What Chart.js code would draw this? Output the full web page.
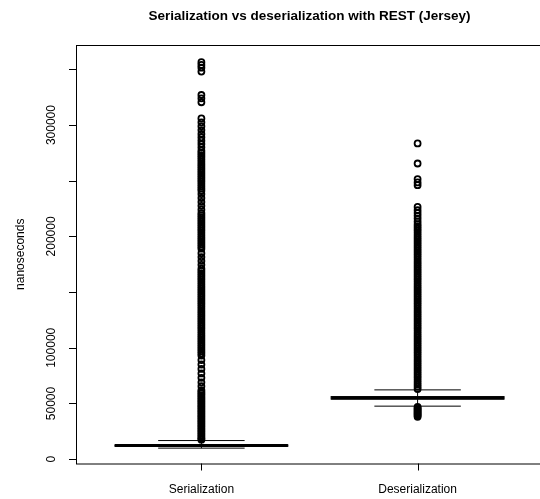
<!DOCTYPE html>
<html>
<head>
<meta charset="utf-8">
<script src="https://cdn.jsdelivr.net/npm/chart.js@4"></script>
<style>
    html, body { margin: 0; padding: 0; overflow: hidden; background: #fff; }
    canvas { display: block; }
</style>
</head>
<body>
<canvas id="chart" width="560" height="499"></canvas>
<script>
// Data
const categories = ['Serialization', 'Deserialization'];
const lowerWhisker = [9900, 47600];
const q1 = [11600, 53900];
const median = [12200, 55000];
const q3 = [12800, 56200];
const upperWhisker = [16700, 62200];

const yTicks = [0, 50000, 100000, 150000, 200000, 250000, 300000, 350000];
const yLabels = ['0', '50000', '100000', '', '200000', '', '300000', ''];

const serializationOutliers = [
    356500, 354000, 351500, 348000, 327000, 324000, 320500,
    306000, 302500, 299000, 295500, 292000, 289000, 286000, 283000, 280000, 277000,
    275000, 273000, 271000, 269000, 267000, 265000, 263000, 261000, 259000, 257000,
    255000, 253000, 251000, 249000, 247000, 245000, 243000, 241000,
    238000, 234500, 231000, 227500, 224000,
    221000, 219000, 217000, 215000, 213000, 211000, 209000, 207000, 205000, 203000,
    201000, 199000, 197000, 195000, 193000, 191000, 189000,
    185000, 181500, 178000, 174500,
    171000, 169000, 167000, 165000, 163000, 161000, 159000, 157000, 155000, 153000,
    151000, 149000, 147000, 145000, 143000, 141000, 139000, 137000, 135000, 133000,
    131000, 129000, 127000, 125000, 123000, 121000, 119000, 117000, 115000, 113000,
    111000, 109000, 107000, 105000, 103000, 101000, 99000, 97000, 95000, 93000,
    89000, 85000, 81000, 77000, 73000, 69000, 65500,
    62000, 60500, 59000, 57500, 56000, 54500, 53000, 51500, 50000, 48500,
    47000, 45500, 44000, 42500, 41000, 39500, 38000, 36500, 35000, 33500,
    32000, 30500, 29000, 27500, 26000, 24500, 23000, 21500, 20000, 18500, 17500
];

const deserializationOutliers = [
    283500, 265500, 251500, 248500, 246000,
    226500, 223500, 221000, 218500, 216000, 213500, 211000, 209000, 207000, 205000,
    203000, 201000, 199000, 197000,
    195000, 193000, 191000, 189000, 187000, 185000, 183000, 181000, 179000, 177000,
    175000, 173000, 171000, 169000, 167000, 165000, 163000, 161000, 159000, 157000,
    155000, 153000, 151000, 149000, 147000, 145000, 143000, 141000, 139000, 137000,
    135000, 133000, 131000, 129000, 127000, 125000, 123000, 121000, 119000, 117000,
    115000, 113000, 111000, 109000, 107000, 105000, 103000, 101000, 99000, 97000,
    95000, 93000, 91000, 89000, 87000, 85000, 83000, 81000, 79000, 77000,
    75000, 73000, 71000, 69000, 67000, 65000, 63000,
    47000, 46000, 45000, 44000, 43000, 42000, 41000, 40000, 39000, 38000
];

const outliers = [serializationOutliers, deserializationOutliers];

const FONT = '"Liberation Sans", Arial, Helvetica, sans-serif';

// R style boxes, frame and axes drawn with the chart's own scales
const rBoxplot = {
    id: 'rBoxplot',
    beforeDatasetsDraw(chart) {
        const ctx = chart.ctx;
        const xs = chart.scales.x;
        const ys = chart.scales.y;
        ctx.save();
        ctx.strokeStyle = '#000';
        categories.forEach((c, i) => {
            const pos = i + 1;
            const xl = xs.getPixelForValue(pos - 0.4);
            const xr = xs.getPixelForValue(pos + 0.4);
            const xc = xs.getPixelForValue(pos);
            const sl = xs.getPixelForValue(pos - 0.2);
            const sr = xs.getPixelForValue(pos + 0.2);

            // whiskers (dashed)
            ctx.lineWidth = 1;
            ctx.setLineDash([4, 4]);
            ctx.beginPath();
            ctx.moveTo(xc, ys.getPixelForValue(q3[i]));
            ctx.lineTo(xc, ys.getPixelForValue(upperWhisker[i]));
            ctx.moveTo(xc, ys.getPixelForValue(q1[i]));
            ctx.lineTo(xc, ys.getPixelForValue(lowerWhisker[i]));
            ctx.stroke();
            ctx.setLineDash([]);

            // staples
            ctx.beginPath();
            ctx.moveTo(sl, ys.getPixelForValue(upperWhisker[i]));
            ctx.lineTo(sr, ys.getPixelForValue(upperWhisker[i]));
            ctx.moveTo(sl, ys.getPixelForValue(lowerWhisker[i]));
            ctx.lineTo(sr, ys.getPixelForValue(lowerWhisker[i]));
            ctx.stroke();

            // box
            const yt = ys.getPixelForValue(q3[i]);
            const yb = ys.getPixelForValue(q1[i]);
            ctx.strokeRect(xl, yt, xr - xl, yb - yt);

            // median
            ctx.lineWidth = 3;
            ctx.beginPath();
            ctx.moveTo(xl, ys.getPixelForValue(median[i]));
            ctx.lineTo(xr, ys.getPixelForValue(median[i]));
            ctx.stroke();
        });
        ctx.restore();
    },
    afterDraw(chart) {
        const ctx = chart.ctx;
        const area = chart.chartArea;
        const xs = chart.scales.x;
        const ys = chart.scales.y;
        ctx.save();
        ctx.strokeStyle = '#000';
        ctx.fillStyle = '#000';
        ctx.lineWidth = 1;

        // frame
        ctx.strokeRect(area.left + 0.5, area.top + 0.5, area.right - area.left, area.bottom - area.top);

        // y axis ticks + rotated labels
        ctx.font = '12px ' + FONT;
        ctx.textAlign = 'center';
        ctx.textBaseline = 'middle';
        ctx.beginPath();
        yTicks.forEach(v => {
            const y = Math.round(ys.getPixelForValue(v)) + 0.5;
            ctx.moveTo(area.left - 7, y);
            ctx.lineTo(area.left, y);
        });
        ctx.stroke();
        yTicks.forEach((v, i) => {
            if (!yLabels[i]) return;
            ctx.save();
            ctx.translate(area.left - 24, ys.getPixelForValue(v));
            ctx.rotate(-Math.PI / 2);
            ctx.fillText(yLabels[i], 0, 0);
            ctx.restore();
        });

        // x axis ticks + labels
        ctx.beginPath();
        categories.forEach((c, i) => {
            const x = Math.round(xs.getPixelForValue(i + 1)) + 0.5;
            ctx.moveTo(x, area.bottom);
            ctx.lineTo(x, area.bottom + 7);
        });
        ctx.stroke();
        categories.forEach((c, i) => {
            ctx.fillText(c, xs.getPixelForValue(i + 1), area.bottom + 26);
        });

        // axis title
        ctx.save();
        ctx.translate(21, (area.top + area.bottom) / 2);
        ctx.rotate(-Math.PI / 2);
        ctx.fillText('nanoseconds', 0, 0);
        ctx.restore();

        // main title
        ctx.font = 'bold 13.5px ' + FONT;
        ctx.fillText('Serialization vs deserialization with REST (Jersey)', (area.left + area.right) / 2, 16);
        ctx.restore();
    }
};

const datasets = categories.map((c, i) => ({
    label: c,
    data: outliers[i].map(v => ({ x: i + 1, y: v })),
    pointRadius: 3,
    pointBorderWidth: 1.8,
    pointBackgroundColor: 'rgba(0,0,0,0)',
    pointBorderColor: '#000',
    showLine: false
}));

new Chart(document.getElementById('chart'), {
    type: 'scatter',
    data: { datasets: datasets },
    options: {
        responsive: false,
        animation: false,
        layout: { padding: { left: 76, top: 45, right: 17, bottom: 35.5 } },
        plugins: {
            legend: { display: false },
            tooltip: { enabled: false }
        },
        scales: {
            x: { type: 'linear', min: 0.42, max: 2.58, display: false },
            y: { type: 'linear', min: -3900, max: 371900, display: false }
        }
    },
    plugins: [rBoxplot]
});
</script>
</body>
</html>
